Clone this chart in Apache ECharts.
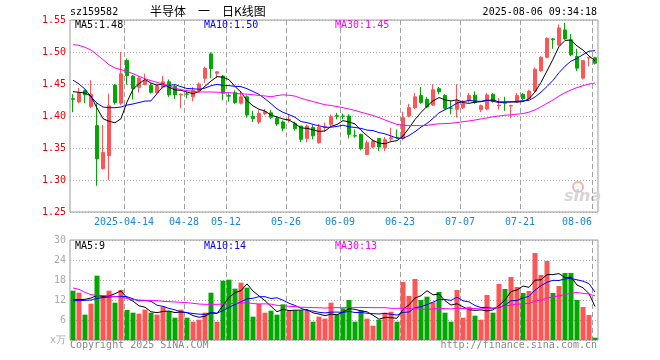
<!DOCTYPE html>
<html>
<head>
<meta charset="utf-8">
<script src="https://cdn.jsdelivr.net/npm/echarts@6/dist/echarts.min.js"></script>
<style>
html,body{margin:0;padding:0;background:#fff;}
#c{width:660px;height:360px;}
</style>
</head>
<body>
<div id="c"></div>
<script>
// ---------- data ----------
const dates = ['2025-03-31','2025-04-01','2025-04-02','2025-04-03','2025-04-07','2025-04-08','2025-04-09','2025-04-10','2025-04-11','2025-04-14',
'2025-04-15','2025-04-16','2025-04-17','2025-04-18','2025-04-21','2025-04-22','2025-04-23','2025-04-24','2025-04-25','2025-04-28',
'2025-04-29','2025-04-30','2025-05-06','2025-05-07','2025-05-08','2025-05-09','2025-05-12','2025-05-13','2025-05-14','2025-05-15',
'2025-05-16','2025-05-19','2025-05-20','2025-05-21','2025-05-22','2025-05-23','2025-05-26','2025-05-27','2025-05-28','2025-05-29',
'2025-05-30','2025-06-03','2025-06-04','2025-06-05','2025-06-06','2025-06-09','2025-06-10','2025-06-11','2025-06-12','2025-06-13',
'2025-06-16','2025-06-17','2025-06-18','2025-06-19','2025-06-20','2025-06-23','2025-06-24','2025-06-25','2025-06-26','2025-06-27',
'2025-06-30','2025-07-01','2025-07-02','2025-07-03','2025-07-04','2025-07-07','2025-07-08','2025-07-09','2025-07-10','2025-07-11',
'2025-07-14','2025-07-15','2025-07-16','2025-07-17','2025-07-18','2025-07-21','2025-07-22','2025-07-23','2025-07-24','2025-07-25',
'2025-07-28','2025-07-29','2025-07-30','2025-07-31','2025-08-01','2025-08-04','2025-08-05','2025-08-06'];

const labelDates = ['2025-04-14','2025-04-28','2025-05-12','2025-05-26','2025-06-09','2025-06-23','2025-07-07','2025-07-21','2025-08-06'];

const opens = [1.427,1.422,1.440,1.415,1.385,1.318,1.338,1.448,1.420,1.487,
1.4625,1.445,1.449,1.448,1.4365,1.445,1.4535,1.446,1.433,1.4345,
1.430,1.4395,1.459,1.497,1.4667,1.4625,1.432,1.4364,1.420,1.430,
1.3995,1.3906,1.404,1.405,1.3964,1.3906,1.394,1.388,1.3843,1.365,
1.382,1.3583,1.382,1.387,1.4005,1.400,1.400,1.3692,1.3713,1.340,
1.3515,1.365,1.3505,1.3645,1.3665,1.365,1.400,1.413,1.432,1.426,
1.417,1.4427,1.432,1.4125,1.4105,1.413,1.424,1.4325,1.410,1.411,
1.434,1.416,1.4205,1.4155,1.4225,1.434,1.4275,1.439,1.4708,1.4917,
1.5205,1.511,1.5345,1.519,1.493,1.4592,1.4905,1.491];

const closes = [1.426,1.436,1.433,1.434,1.333,1.343,1.416,1.421,1.466,1.463,
1.443,1.459,1.455,1.437,1.447,1.4535,1.433,1.433,1.434,1.434,
1.440,1.450,1.4745,1.474,1.469,1.4355,1.431,1.421,1.430,1.4015,
1.396,1.404,1.4068,1.398,1.3875,1.3808,1.395,1.380,1.3635,1.3843,
1.369,1.3825,1.3835,1.399,1.3995,1.3995,1.3713,1.3687,1.349,1.3583,
1.361,1.3515,1.363,1.366,1.366,1.3974,1.413,1.430,1.421,1.414,
1.441,1.438,1.412,1.412,1.4235,1.419,1.4323,1.421,1.416,1.433,
1.423,1.417,1.420,1.4165,1.432,1.427,1.439,1.473,1.4917,1.5215,
1.519,1.5375,1.5205,1.4955,1.4748,1.4865,1.4915,1.4825];

const lows = [1.406,1.420,1.420,1.412,1.291,1.316,1.300,1.418,1.417,1.449,
1.426,1.4365,1.448,1.435,1.434,1.443,1.430,1.4265,1.412,1.4275,
1.423,1.437,1.452,1.459,1.459,1.4245,1.4224,1.419,1.418,1.3975,
1.3906,1.3875,1.4015,1.3953,1.3845,1.376,1.3896,1.377,1.359,1.359,
1.3635,1.3567,1.3755,1.384,1.3948,1.3948,1.365,1.366,1.3463,1.3385,
1.3495,1.3453,1.3453,1.361,1.364,1.362,1.398,1.411,1.419,1.412,
1.4155,1.4338,1.410,1.4026,1.3975,1.411,1.421,1.419,1.406,1.409,
1.421,1.410,1.408,1.3965,1.421,1.425,1.426,1.437,1.469,1.490,
1.505,1.509,1.519,1.4935,1.470,1.457,1.4775,1.4805];

const highs = [1.434,1.444,1.441,1.456,1.420,1.386,1.435,1.450,1.500,1.490,
1.464,1.4625,1.466,1.451,1.449,1.4625,1.457,1.449,1.4355,1.438,
1.445,1.4525,1.477,1.4995,1.4703,1.464,1.4355,1.440,1.4385,1.4325,
1.408,1.409,1.411,1.4094,1.400,1.393,1.4026,1.391,1.3845,1.3865,
1.386,1.388,1.3896,1.4025,1.405,1.4037,1.4026,1.379,1.3725,1.362,
1.3635,1.3655,1.3672,1.3817,1.379,1.4068,1.419,1.436,1.4453,1.4297,
1.4495,1.4453,1.434,1.4234,1.4495,1.425,1.436,1.4386,1.418,1.436,
1.436,1.428,1.430,1.4175,1.436,1.436,1.441,1.476,1.4935,1.523,
1.522,1.543,1.5455,1.528,1.505,1.4875,1.4925,1.4925];

const ma5 = [1.438,1.437,1.436,1.431,1.4124,1.3958,1.3918,1.3894,1.3958,1.4218,
1.4418,1.4504,1.4572,1.4514,1.4482,1.4503,1.4451,1.4407,1.4401,1.4375,
1.4348,1.4382,1.4465,1.4545,1.4615,1.4606,1.4568,1.4461,1.4373,1.4238,
1.4159,1.4105,1.4077,1.4013,1.3985,1.3954,1.3936,1.3883,1.3814,1.3807,
1.3784,1.3759,1.3766,1.3837,1.3867,1.3928,1.3906,1.3876,1.3776,1.3694,
1.3617,1.3577,1.3566,1.3600,1.3615,1.3688,1.3811,1.3945,1.4055,1.4151,
1.4238,1.4288,1.4252,1.4234,1.4253,1.4209,1.4198,1.4216,1.4224,1.4243,
1.4251,1.4220,1.4218,1.4219,1.4217,1.4225,1.4269,1.4375,1.4525,1.4704,
1.4888,1.5085,1.5180,1.5188,1.5095,1.5030,1.4938,1.4862];

const ma10 = [1.456,1.450,1.442,1.430,1.420,1.414,1.413,1.413,1.414,1.4171,
1.4188,1.4211,1.4233,1.4236,1.4350,1.4461,1.4478,1.4490,1.4458,1.4429,
1.4426,1.4417,1.4436,1.4473,1.4495,1.4477,1.4475,1.4463,1.4459,1.4427,
1.4383,1.4337,1.4269,1.4193,1.4111,1.4057,1.4021,1.3980,1.3913,1.3896,
1.3869,1.3847,1.3824,1.3825,1.3837,1.3856,1.3832,1.3821,1.3806,1.3780,
1.3772,1.3741,1.3721,1.3688,1.3654,1.3652,1.3694,1.3755,1.3827,1.3883,
1.3963,1.4049,1.4098,1.4144,1.4202,1.4224,1.4243,1.4234,1.4229,1.4248,
1.4230,1.4209,1.4217,1.4221,1.4230,1.4238,1.4245,1.4297,1.4372,1.4461,
1.4557,1.4677,1.4778,1.4857,1.4900,1.4959,1.5012,1.5021];

const ma30 = [1.5115,1.5104,1.5073,1.5031,1.4958,1.4880,1.4802,1.4750,1.4724,1.4698,
1.4661,1.4620,1.4583,1.4552,1.4526,1.4500,1.4469,1.4438,1.4411,1.4396,
1.4385,1.4375,1.4375,1.4375,1.4372,1.4370,1.4365,1.4355,1.4345,1.4342,
1.4332,1.4321,1.4313,1.4301,1.4319,1.4331,1.4324,1.4311,1.4277,1.4250,
1.4226,1.4200,1.4176,1.4164,1.4148,1.4130,1.4109,1.4088,1.4059,1.4034,
1.4008,1.3975,1.3938,1.3902,1.3868,1.3855,1.3849,1.3852,1.3849,1.3853,
1.3868,1.3879,1.3881,1.3886,1.3898,1.3911,1.3923,1.3937,1.3954,1.3970,
1.3988,1.4000,1.4012,1.4018,1.4029,1.4038,1.4060,1.4095,1.4143,1.4197,
1.4250,1.4312,1.4364,1.4407,1.4444,1.4473,1.4500,1.4517];

const volumes = [14.8,14.2,7.6,10.9,19.3,13.3,14.8,11.2,15.0,9.0,
8.2,7.9,9.1,8.2,7.6,10.0,8.6,6.7,9.1,6.7,
5.5,6.1,8.2,14.2,5.5,17.8,18.1,15.4,17.2,15.7,
7.0,10.8,8.2,8.8,7.6,10.7,8.8,8.8,8.8,8.8,
5.5,7.0,6.4,11.2,7.8,9.5,12.0,5.5,8.9,6.4,
4.3,6.1,8.2,8.5,5.5,17.4,13.2,18.3,12.0,13.0,
11.3,14.4,8.2,5.5,15.0,6.7,10.0,7.3,6.1,13.5,
8.2,16.8,15.3,18.9,15.9,14.1,14.7,26.1,19.5,23.7,
14.1,16.2,20.1,20.1,12.0,9.9,7.5,0.7];

const vma5 = [12.1,12.1,12.2,12.6,13.36,13.06,13.18,13.9,14.72,12.66,
11.64,10.26,9.84,8.48,8.2,8.56,8.7,8.22,8.4,8.22,
7.32,6.82,7.12,8.14,7.9,10.36,12.76,14.2,14.8,16.84,
14.68,13.22,11.78,10.1,8.48,9.22,8.82,8.94,8.94,9.18,
8.14,7.78,7.3,7.78,7.58,8.38,9.38,9.2,8.74,8.46,
7.42,6.24,6.78,6.7,6.52,9.14,10.56,12.58,13.28,14.78,
13.56,13.8,11.78,10.48,10.88,9.96,9.08,8.9,9.02,8.72,
9.02,10.38,11.98,14.54,15.02,16.2,15.78,17.94,18.06,19.62,
19.62,19.92,18.72,18.84,16.5,15.66,13.92,10.04];

const vma10 = [11.8,11.8,11.9,12.0,12.5,12.7,12.9,13.0,13.1,13.01,
12.35,11.72,11.87,11.6,10.43,10.1,9.48,9.03,8.44,8.21,
7.94,7.76,7.67,8.27,8.06,8.84,9.79,10.66,11.47,12.37,
12.52,12.99,12.99,12.45,12.66,11.95,11.02,10.36,9.52,8.83,
8.68,8.3,8.12,8.36,8.38,8.26,8.58,8.25,8.26,8.02,
7.9,7.81,7.99,7.72,7.49,8.28,8.4,9.68,9.99,10.65,
11.35,12.18,12.18,11.88,12.83,11.76,11.44,10.34,9.75,9.8,
9.49,9.73,10.44,11.78,11.87,12.61,13.08,14.96,16.3,17.32,
17.91,17.85,18.33,18.45,18.06,17.64,16.92,14.38];

const vma30 = [15.6,15.2,14.3,13.6,13.4,13.3,13.2,13.1,12.8,12.5,
12.1,12.0,11.9,11.9,11.8,11.6,11.5,11.4,11.3,11.2,
11.0,10.8,10.7,10.7,10.7,10.8,10.9,11.0,11.1,11.2,
10.94,10.82,10.84,10.77,10.38,10.3,10.1,10.02,9.81,9.8,
9.71,9.68,9.59,9.69,9.7,9.68,9.8,9.76,9.75,9.74,
9.7,9.7,9.7,9.51,9.51,9.5,9.33,9.43,9.26,9.17,
9.31,9.43,9.43,9.32,9.57,9.43,9.47,9.42,9.33,9.49,
9.58,9.91,10.2,10.46,10.73,10.88,10.97,11.66,12.01,12.59,
12.92,13.25,13.65,14.04,14.25,14.0,13.81,13.23];

const priceTicks = [1.25, 1.55, 0.05];
const volTicks = [0, 30, 6];
const titleText = '半导体\u3000一\u3000日K线图';
const codeText = 'sz159582';
const timeText = '2025-08-06 09:34:18';
const maLabels = ['MA5:1.48', 'MA10:1.50', 'MA30:1.45'];
const vmaLabels = ['MA5:9', 'MA10:14', 'MA30:13'];

// ---------- chart ----------
const UP = '#ff5555', DOWN = '#00a800';
const MONO = '"DejaVu Sans Mono", "Liberation Mono", monospace';
const labelIdx = labelDates.map(d => dates.indexOf(d));
const lastIdx = dates.length - 1;
const kData = opens.map((o, i) => [o, closes[i], lows[i], highs[i]]);
const dirUp = opens.map((o, i) => closes[i] >= o);

const chart = echarts.init(document.getElementById('c'), null, {renderer: 'canvas'});

const hSplit = {show: true, lineStyle: {color: '#a8a8a8', width: 1, type: [1, 2]}};

function lineSeries(data, color, xi, yi) {
  return {type: 'line', data, xAxisIndex: xi, yAxisIndex: yi, showSymbol: false, symbol: 'none',
    silent: true, lineStyle: {color, width: 1}, z: 5};
}

// dashed vertical date lines at the left edge of each labelled day's band,
// drawn as short filled dashes (5px on, 3px off)
function dateLines(xi, yi, yMin, yMax) {
  return {
    type: 'custom', xAxisIndex: xi, yAxisIndex: yi, silent: true, z: 2, clip: false,
    data: labelIdx.map(i => [i, yMin]),
    renderItem: (params, api) => {
      const idx = api.value(0);
      const top = api.coord([idx, yMax]);
      const bot = api.coord([idx, yMin]);
      const w = api.size([1, 0])[0];
      const x = Math.round(top[0] - w / 2);
      const children = [];
      for (let y = top[1]; y < bot[1]; y += 8) {
        children.push({type: 'rect',
          shape: {x: x, y: y, width: 1, height: Math.min(5, bot[1] - y)},
          style: {fill: '#a0a0a0'}});
      }
      return {type: 'group', children: children};
    }
  };
}

const option = {
  animation: false,
  backgroundColor: '#fff',
  grid: [
    {left: 70, top: 20, width: 528, height: 192, show: true, borderColor: '#9a9a9a', borderWidth: 1},
    {left: 70, top: 240, width: 528, height: 100, show: true, borderColor: '#9a9a9a', borderWidth: 1}
  ],
  xAxis: [
    {type: 'category', gridIndex: 0, data: dates, boundaryGap: true,
      axisLine: {show: false}, axisTick: {show: false},
      axisLabel: {
        interval: (idx) => labelIdx.includes(idx),
        margin: 5,
        formatter: (v, idx) => {
          const t = idx === labelIdx[0] ? v : v.slice(5);
          return idx === lastIdx ? '{b|' + t + '}' : '{a|' + t + '}';
        },
        rich: {
          a: {color: '#1a86d8', fontFamily: MONO, fontSize: 10, padding: [0, 6, 0, 0]},
          b: {color: '#1a86d8', fontFamily: MONO, fontSize: 10, padding: [0, 36, 0, 0]}
        }
      },
      splitLine: {show: false}},
    {type: 'category', gridIndex: 1, data: dates, boundaryGap: true,
      axisLine: {show: false}, axisTick: {show: false}, axisLabel: {show: false},
      splitLine: {show: false}}
  ],
  yAxis: [
    {type: 'value', gridIndex: 0, min: priceTicks[0], max: priceTicks[1], interval: priceTicks[2],
      axisLine: {show: false}, axisTick: {show: false},
      axisLabel: {color: '#ee0000', fontFamily: MONO, fontSize: 10, margin: 4,
        formatter: v => v.toFixed(2)},
      splitLine: hSplit},
    {type: 'value', gridIndex: 1, min: volTicks[0], max: volTicks[1], interval: volTicks[2],
      axisLine: {show: false}, axisTick: {show: false},
      axisLabel: {color: '#aaaaaa', fontFamily: MONO, fontSize: 10, margin: 4,
        formatter: v => v === 0 ? 'x万' : String(v)},
      splitLine: hSplit}
  ],
  series: [
    dateLines(0, 0, priceTicks[0], priceTicks[1]),
    dateLines(1, 1, volTicks[0], volTicks[1]),
    {type: 'candlestick', xAxisIndex: 0, yAxisIndex: 0, data: kData, barWidth: 4,
      itemStyle: {color: UP, color0: DOWN, borderColor: UP, borderColor0: DOWN, borderWidth: 1}, z: 3},
    lineSeries(ma5, '#000000', 0, 0),
    lineSeries(ma10, '#0000ff', 0, 0),
    lineSeries(ma30, '#ff00ff', 0, 0),
    {type: 'bar', xAxisIndex: 1, yAxisIndex: 1, data: volumes, barWidth: 5,
      itemStyle: {color: p => dirUp[p.dataIndex] ? UP : DOWN}, z: 3},
    lineSeries(vma5, '#000000', 1, 1),
    lineSeries(vma10, '#0000ff', 1, 1),
    lineSeries(vma30, '#ff00ff', 1, 1)
  ],
  graphic: [
    {type: 'text', left: 70, top: 7, style: {text: codeText, font: '10px ' + MONO, fill: '#000'}},
    {type: 'text', left: 150, top: 5, style: {text: titleText, font: '12px "Noto Sans CJK SC"', fill: '#000'}},
    {type: 'text', right: 63, top: 7, style: {text: timeText, font: '10px ' + MONO, fill: '#000'}},
    {type: 'text', left: 75, top: 20, z: 10, style: {text: maLabels[0], font: '10px ' + MONO, fill: '#000'}},
    {type: 'text', left: 204, top: 20, z: 10, style: {text: maLabels[1], font: '10px ' + MONO, fill: '#0000ff'}},
    {type: 'text', left: 335, top: 20, z: 10, style: {text: maLabels[2], font: '10px ' + MONO, fill: '#ff00ff'}},
    {type: 'text', left: 75, top: 241, z: 10, style: {text: vmaLabels[0], font: '10px ' + MONO, fill: '#000'}},
    {type: 'text', left: 204, top: 241, z: 10, style: {text: vmaLabels[1], font: '10px ' + MONO, fill: '#0000ff'}},
    {type: 'text', left: 335, top: 241, z: 10, style: {text: vmaLabels[2], font: '10px ' + MONO, fill: '#ff00ff'}},
    {type: 'text', left: 70, top: 340, style: {text: 'Copyright 2025 SINA.COM', font: '10px ' + MONO, fill: '#888'}},
    {type: 'text', right: 63, top: 340, style: {text: 'http://finance.sina.com.cn', font: '10px ' + MONO, fill: '#888'}},
    {type: 'circle', shape: {cx: 578, cy: 187, r: 5}, style: {fill: 'none', stroke: '#f2b4b4', lineWidth: 2}, z: 0},
    {type: 'text', left: 564, top: 189, style: {text: 'sina', font: 'italic bold 16px "DejaVu Sans"', fill: '#d6d6d6'}, z: 0}
  ]
};
chart.setOption(option);
</script>
</body>
</html>
